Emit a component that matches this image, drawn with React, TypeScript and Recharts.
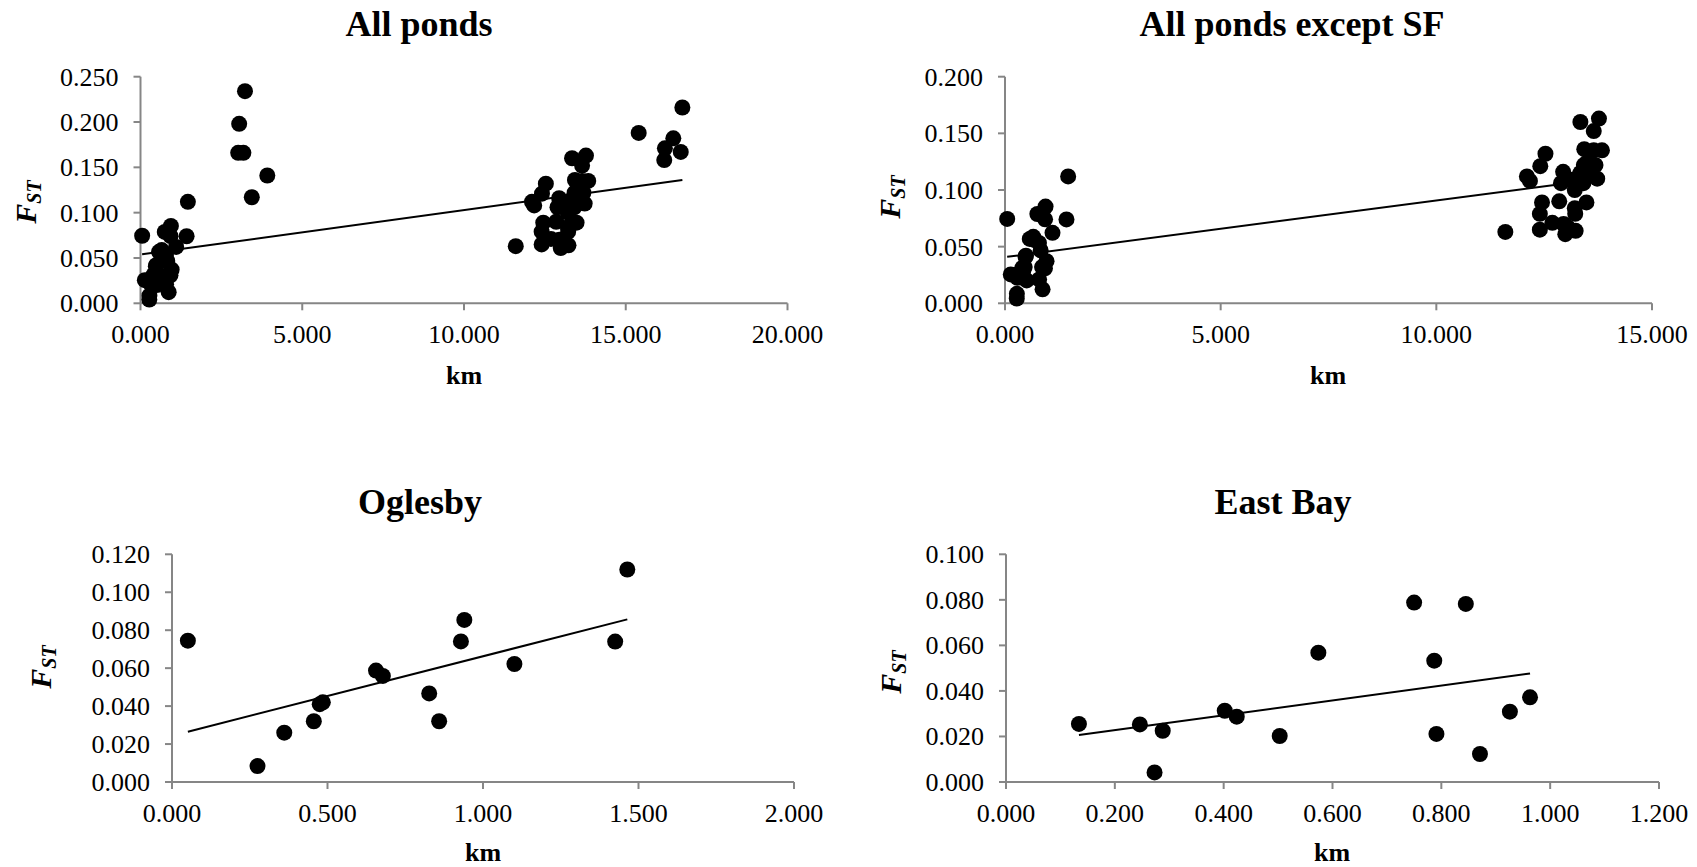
import React from "react"
import { ScatterChart, Scatter, XAxis, YAxis } from "recharts"

// Oglesby pond pairs
const ogKm = [0.051, 0.275, 0.361, 0.456, 0.475, 0.485, 0.656, 0.678, 0.827, 0.859, 0.929, 0.94, 1.101, 1.425, 1.464]
const ogFst = [0.0745, 0.0084, 0.026, 0.032, 0.041, 0.042, 0.0587, 0.0559, 0.0467, 0.032, 0.0741, 0.0854, 0.0622, 0.074, 0.112]

// East Bay pond pairs
const ebKm = [0.134, 0.246, 0.273, 0.288, 0.402, 0.424, 0.503, 0.574, 0.75, 0.787, 0.791, 0.845, 0.871, 0.926, 0.963]
const ebFst = [0.0255, 0.0253, 0.0042, 0.0225, 0.0313, 0.0287, 0.0202, 0.0568, 0.0788, 0.0533, 0.0211, 0.0782, 0.0123, 0.0309, 0.0372]

// Oglesby x East Bay pairs
const crossKm = [
  11.6, 12.1, 12.17, 12.41, 12.53, 12.45, 12.4, 12.4, 12.69, 12.85, 12.94, 12.89,
  12.95, 12.99, 13.05, 13.23, 13.21, 13.22, 13.21, 13.26, 13.34, 13.48, 13.42, 13.49,
  13.69, 13.73, 13.43, 13.65, 13.84, 13.34, 13.65, 13.77, 13.41, 13.53, 13.11, 13.3,
]
const crossFst = [
  0.063, 0.112, 0.108, 0.121, 0.132, 0.089, 0.079, 0.065, 0.071, 0.09, 0.116, 0.106,
  0.07, 0.061, 0.067, 0.064, 0.084, 0.079, 0.1, 0.109, 0.115, 0.089, 0.122, 0.124,
  0.122, 0.11, 0.136, 0.135, 0.135, 0.16, 0.152, 0.163, 0.106, 0.115, 0.109, 0.112,
]

// SF pond pairs
const sfKm = [3.02, 3.05, 3.18, 3.23, 3.44, 3.92, 15.4, 16.19, 16.21, 16.47, 16.7, 16.75]
const sfFst = [0.166, 0.198, 0.166, 0.234, 0.117, 0.141, 0.188, 0.158, 0.171, 0.182, 0.167, 0.216]

// trendlines (end points)
const fitAllKm = [0.05, 16.75]
const fitAllFst = [0.054, 0.136]
const fitExKm = [0.05, 13.84]
const fitExFst = [0.041, 0.11]
const fitOgKm = [0.051, 1.464]
const fitOgFst = [0.0265, 0.0857]
const fitEbKm = [0.134, 0.963]
const fitEbFst = [0.0206, 0.0477]

const titles = ["All ponds", "All ponds except SF", "Oglesby", "East Bay"]
const xTicks1 = [0, 5, 10, 15, 20]
const xTicks2 = [0, 5, 10, 15]
const xTicks3 = [0, 0.5, 1, 1.5, 2]
const xTicks4 = [0, 0.2, 0.4, 0.6, 0.8, 1, 1.2]
const yTicks1 = [0, 0.05, 0.1, 0.15, 0.2, 0.25]
const yTicks2 = [0, 0.05, 0.1, 0.15, 0.2]
const yTicks3 = [0, 0.02, 0.04, 0.06, 0.08, 0.1, 0.12]
const yTicks4 = [0, 0.02, 0.04, 0.06, 0.08, 0.1]

const zip = (xs: number[], ys: number[]) => xs.map((x, i) => ({ x, y: ys[i] }))

const W = 1697
const H = 867
const YW = 80
const XH = 50
const axisGray = "#868686"
const serif = "Liberation Serif"

const Dot = (p: any) => <circle cx={p.cx} cy={p.cy} r={8} fill="#000" />
const NoDot = () => <g />

// custom ticks so the serif face is applied for sure
const XTick = (p: any) => (
  <text x={p.x} y={p.y} dy={19} textAnchor="middle" fill="#000" fontSize={26} style={{ fontFamily: serif }}>
    {Number(p.payload.value).toFixed(3)}
  </text>
)
const YTick = (p: any) => (
  <text x={p.x} y={p.y} dy={9} textAnchor="end" fill="#000" fontSize={26} style={{ fontFamily: serif }}>
    {Number(p.payload.value).toFixed(3)}
  </text>
)

type PanelProps = {
  points: { x: number; y: number }[]
  fit: { x: number; y: number }[]
  xTicks: number[]
  yTicks: number[]
  box: [number, number, number, number]
}

function Panel({ points, fit, xTicks, yTicks, box }: PanelProps) {
  const [x0, x1, y0, y1] = box
  const line = { stroke: axisGray, strokeWidth: 2 }
  return (
    <div style={{ position: "absolute", left: 0, top: 0 }}>
      <ScatterChart width={W} height={H} margin={{ left: x0 - YW, right: W - x1, top: y0, bottom: H - y1 - XH }}>
        <XAxis
          type="number"
          dataKey="x"
          domain={[xTicks[0], xTicks[xTicks.length - 1]]}
          ticks={xTicks}
          interval={0}
          axisLine={line}
          tickLine={line}
          tickSize={7}
          tickMargin={14}
          tick={XTick}
          height={XH}
        />
        <YAxis
          type="number"
          dataKey="y"
          domain={[yTicks[0], yTicks[yTicks.length - 1]]}
          ticks={yTicks}
          interval={0}
          axisLine={line}
          tickLine={line}
          tickSize={7}
          tickMargin={15}
          tick={YTick}
          width={YW}
        />
        <Scatter data={fit} line={{ stroke: "#000", strokeWidth: 2 }} shape={NoDot} isAnimationActive={false} />
        <Scatter data={points} shape={Dot} isAnimationActive={false} />
      </ScatterChart>
    </div>
  )
}

function Fst({ x, y }: { x: number; y: number }) {
  return (
    <text
      x={x}
      y={y}
      transform={`rotate(-90 ${x} ${y})`}
      textAnchor="middle"
      style={{ fontFamily: serif, fontWeight: "bold", fontStyle: "italic" }}
    >
      <tspan fontSize={30}>F</tspan>
      <tspan fontSize={20} dy={5}>ST</tspan>
    </text>
  )
}

export default function App() {
  const og = zip(ogKm, ogFst)
  const eb = zip(ebKm, ebFst)
  const except = [...og, ...eb, ...zip(crossKm, crossFst)]
  const all = [...except, ...zip(sfKm, sfFst)]

  const titleStyle = { fontFamily: serif, fontWeight: "bold" as const, fontSize: 36 }
  const kmStyle = { fontFamily: serif, fontWeight: "bold" as const, fontSize: 26 }

  return (
    <div style={{ position: "absolute", left: 0, top: 0, width: W, height: H, background: "#fff", fontFamily: serif }}>
      <Panel points={all} fit={zip(fitAllKm, fitAllFst)} xTicks={xTicks1} yTicks={yTicks1} box={[140.5, 787.5, 76.7, 303.3]} />
      <Panel points={except} fit={zip(fitExKm, fitExFst)} xTicks={xTicks2} yTicks={yTicks2} box={[1005, 1652, 76.7, 303.3]} />
      <Panel points={og} fit={zip(fitOgKm, fitOgFst)} xTicks={xTicks3} yTicks={yTicks3} box={[172, 794, 554.3, 782]} />
      <Panel points={eb} fit={zip(fitEbKm, fitEbFst)} xTicks={xTicks4} yTicks={yTicks4} box={[1006, 1659, 554.3, 782]} />

      <svg width={W} height={H} style={{ position: "absolute", left: 0, top: 0, pointerEvents: "none" }}>
        <text x={419} y={36} textAnchor="middle" style={titleStyle}>{titles[0]}</text>
        <text x={1292} y={36} textAnchor="middle" style={titleStyle}>{titles[1]}</text>
        <text x={420} y={514} textAnchor="middle" style={titleStyle}>{titles[2]}</text>
        <text x={1283} y={514} textAnchor="middle" style={titleStyle}>{titles[3]}</text>

        <text x={464} y={384} textAnchor="middle" style={kmStyle}>km</text>
        <text x={1328} y={384} textAnchor="middle" style={kmStyle}>km</text>
        <text x={483} y={861} textAnchor="middle" style={kmStyle}>km</text>
        <text x={1332} y={861} textAnchor="middle" style={kmStyle}>km</text>

        <Fst x={36} y={202} />
        <Fst x={900} y={197} />
        <Fst x={51} y={667} />
        <Fst x={901} y={672} />
      </svg>
    </div>
  )
}
